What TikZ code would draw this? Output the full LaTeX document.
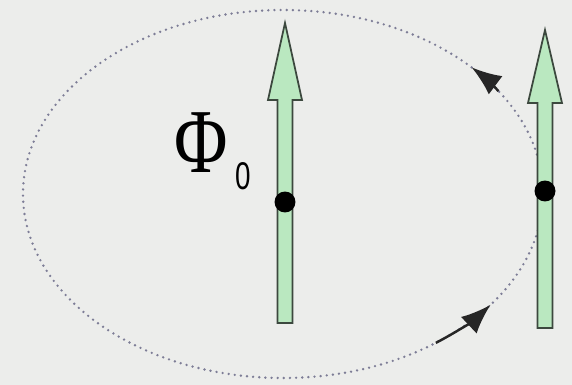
\documentclass[tikz,border=0pt]{standalone}
\usepackage{fontspec}
\setmainfont{Liberation Serif}
\setsansfont{Liberation Sans}
\usetikzlibrary{arrows.meta}
\definecolor{spinfill}{RGB}{186,232,192}
\definecolor{spinedge}{RGB}{60,72,62}
\definecolor{orbit}{RGB}{125,125,150}
\definecolor{paper}{RGB}{236,237,235}

\begin{document}
\begin{tikzpicture}[x=0.02cm, y=-0.02cm,
  spin/.style={fill=spinfill, draw=spinedge, line width=1pt},
  pivot/.style={circle, fill=black, inner sep=0pt, minimum size=0.42cm},
  orbitline/.style={orbit, line width=1.5pt, line cap=round, dash pattern=on 0pt off 3.5pt},
  flow/.style={-{Latex[length=17pt,width=13pt]}, line width=1.4pt, black!85}]
  \fill[paper] (0,0) rectangle (572,385);
  \useasboundingbox (0,0) rectangle (572,385);
  % precession path
  \draw[orbitline] (283,194) ellipse [x radius=260, y radius=184];
  \draw[flow] (283,194) ++(54:260 and 184) arc[start angle=54, end angle=37, x radius=260, y radius=184];
  \draw[flow] (283,194) ++(-34:260 and 184) arc[start angle=-34, end angle=-43.5, x radius=260, y radius=184];
  % the two spins
  \foreach \x/\tip/\base/\foot/\dot/\name in {285/23/100/323/202/a, 545/30/103/328/191/b} {
    \draw[spin] (\x-7.5,\foot) -- (\x-7.5,\base) -- (\x-17,\base) -- (\x,\tip)
      -- (\x+17,\base) -- (\x+7.5,\base) -- (\x+7.5,\foot) -- cycle;
    \node[pivot] (pivot\name) at (\x,\dot) {};
  }
  \node[inner sep=0pt, font=\fontsize{52}{52}\selectfont] (phi) at (201,143) {\scalebox{0.8}[1]{Φ}};
  \node[inner sep=0pt, font=\sffamily\fontsize{22}{22}\selectfont] (phisub) at (243,176) {\scalebox{0.72}[1]{0}};
\end{tikzpicture}
\end{document}
